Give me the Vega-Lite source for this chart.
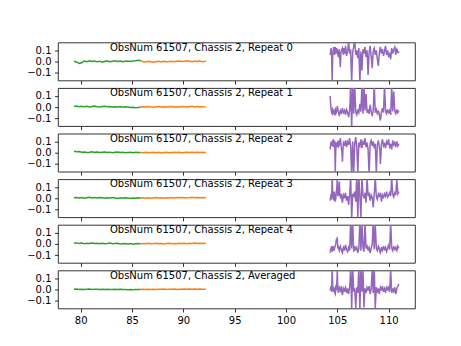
{
"$schema": "https://vega.github.io/schema/vega-lite/v6.json",
"padding": {"left": 26, "top": 41.5, "right": 0, "bottom": 0},
"spacing": 7.6,
"bounds": "flush",
"config": {
 "font": "DejaVu Sans",
 "view": {"stroke": "#000", "strokeWidth": 0.8},
 "axis": {"grid": false, "domain": false, "tickColor": "#000", "tickWidth": 0.8, "tickSize": 3.5, "labelColor": "#000", "labelFontSize": 10, "labelPadding": 3.5, "labelFont": "DejaVu Sans", "title": null, "labelFlush": false, "labelOverlap": false}
},
"datasets": {"spec": [
{"x":79.35,"s":"g","a":0.002,"b":0.006,"c":0.012,"d":0.004,"e":0.005,"f":0.002},
{"x":79.6,"s":"g","a":-0.004,"b":0.010,"c":0.008,"d":0.008,"e":0.009,"f":0.004},
{"x":79.85,"s":"g","a":-0.018,"b":0.004,"c":0.010,"d":0.002,"e":0.003,"f":0.001},
{"x":80.1,"s":"g","a":-0.012,"b":0.008,"c":0.004,"d":0.006,"e":0.007,"f":0.003},
{"x":80.35,"s":"g","a":0.004,"b":0.003,"c":0.007,"d":0.001,"e":0.002,"f":0.000},
{"x":80.6,"s":"g","a":-0.002,"b":0.007,"c":0.002,"d":0.005,"e":0.006,"f":0.002},
{"x":80.85,"s":"g","a":0.006,"b":0.002,"c":0.005,"d":0.009,"e":0.004,"f":0.004},
{"x":81.1,"s":"g","a":0.001,"b":0.006,"c":0.009,"d":0.003,"e":0.008,"f":0.001},
{"x":81.35,"s":"g","a":0.005,"b":0.009,"c":0.003,"d":0.006,"e":0.003,"f":0.003},
{"x":81.6,"s":"g","a":-0.003,"b":0.004,"c":0.006,"d":0.002,"e":0.005,"f":0.002},
{"x":81.85,"s":"g","a":0.003,"b":0.001,"c":0.001,"d":0.007,"e":0.001,"f":0.000},
{"x":82.1,"s":"g","a":-0.006,"b":0.005,"c":0.004,"d":0.004,"e":0.006,"f":0.003},
{"x":82.35,"s":"g","a":0.002,"b":0.008,"c":0.007,"d":0.000,"e":0.002,"f":0.001},
{"x":82.6,"s":"g","a":0.005,"b":0.003,"c":0.002,"d":0.005,"e":0.004,"f":0.002},
{"x":82.85,"s":"g","a":-0.002,"b":0.006,"c":0.005,"d":0.002,"e":0.007,"f":-0.001},
{"x":83.1,"s":"g","a":0.003,"b":0.000,"c":0.000,"d":0.006,"e":0.001,"f":0.001},
{"x":83.35,"s":"g","a":0.006,"b":0.004,"c":0.004,"d":0.003,"e":0.003,"f":0.003},
{"x":83.6,"s":"g","a":0.001,"b":0.002,"c":0.006,"d":-0.001,"e":0.005,"f":0.000},
{"x":83.85,"s":"g","a":0.004,"b":0.005,"c":0.001,"d":0.004,"e":-0.001,"f":0.002},
{"x":84.1,"s":"g","a":-0.003,"b":-0.001,"c":0.003,"d":0.001,"e":0.002,"f":-0.001},
{"x":84.35,"s":"g","a":0.002,"b":0.003,"c":-0.001,"d":0.005,"e":0.004,"f":0.001},
{"x":84.6,"s":"g","a":0.005,"b":0.000,"c":0.002,"d":0.002,"e":0.000,"f":-0.002},
{"x":84.85,"s":"g","a":0.001,"b":-0.004,"c":0.004,"d":-0.002,"e":0.003,"f":0.000},
{"x":85.1,"s":"g","a":0.004,"b":-0.002,"c":0.000,"d":0.003,"e":-0.002,"f":-0.003},
{"x":85.35,"s":"g","a":0.006,"b":-0.006,"c":0.003,"d":0.000,"e":0.001,"f":-0.001},
{"x":85.6,"s":"g","a":0.012,"b":-0.003,"c":0.001,"d":0.004,"e":0.003,"f":0.001},
{"x":85.85,"s":"g","a":0.008,"b":0.001,"c":0.002,"d":0.002,"e":0.001,"f":0.000},
{"x":85.85,"s":"o","a":0.008,"b":0.001,"c":0.002,"d":0.002,"e":0.001,"f":0.000},
{"x":86.1,"s":"o","a":-0.002,"b":0.004,"c":0.000,"d":0.005,"e":0.004,"f":0.002},
{"x":86.35,"s":"o","a":-0.004,"b":0.000,"c":0.003,"d":0.001,"e":0.002,"f":0.001},
{"x":86.6,"s":"o","a":0.001,"b":0.005,"c":-0.001,"d":0.004,"e":0.005,"f":0.003},
{"x":86.85,"s":"o","a":-0.003,"b":0.002,"c":0.002,"d":0.000,"e":0.001,"f":0.000},
{"x":87.1,"s":"o","a":-0.006,"b":-0.001,"c":0.004,"d":0.003,"e":0.003,"f":0.002},
{"x":87.35,"s":"o","a":-0.002,"b":0.003,"c":0.000,"d":0.006,"e":0.006,"f":0.001},
{"x":87.6,"s":"o","a":0.002,"b":0.006,"c":0.003,"d":0.002,"e":0.002,"f":0.003},
{"x":87.85,"s":"o","a":-0.004,"b":0.001,"c":-0.002,"d":0.004,"e":0.004,"f":0.002},
{"x":88.1,"s":"o","a":0.001,"b":0.004,"c":0.001,"d":0.001,"e":0.000,"f":0.004},
{"x":88.35,"s":"o","a":-0.003,"b":0.000,"c":0.003,"d":0.005,"e":0.003,"f":0.001},
{"x":88.6,"s":"o","a":-0.001,"b":0.003,"c":0.000,"d":0.002,"e":0.005,"f":0.003},
{"x":88.85,"s":"o","a":0.003,"b":0.005,"c":0.002,"d":0.006,"e":0.001,"f":0.002},
{"x":89.1,"s":"o","a":-0.002,"b":0.001,"c":0.004,"d":0.003,"e":0.004,"f":0.004},
{"x":89.35,"s":"o","a":0.002,"b":0.004,"c":0.001,"d":0.007,"e":0.002,"f":0.001},
{"x":89.6,"s":"o","a":0.004,"b":0.002,"c":0.003,"d":0.004,"e":0.006,"f":0.003},
{"x":89.85,"s":"o","a":0.000,"b":0.006,"c":-0.001,"d":0.008,"e":0.003,"f":0.002},
{"x":90.1,"s":"o","a":0.003,"b":0.003,"c":0.002,"d":0.005,"e":0.005,"f":0.004},
{"x":90.35,"s":"o","a":0.006,"b":0.000,"c":0.004,"d":0.002,"e":0.002,"f":0.003},
{"x":90.6,"s":"o","a":0.002,"b":0.004,"c":0.001,"d":0.006,"e":0.006,"f":0.005},
{"x":90.85,"s":"o","a":-0.002,"b":0.007,"c":0.005,"d":0.009,"e":0.003,"f":0.002},
{"x":91.1,"s":"o","a":0.004,"b":0.002,"c":0.002,"d":0.004,"e":0.007,"f":0.004},
{"x":91.35,"s":"o","a":0.001,"b":0.005,"c":0.004,"d":0.007,"e":0.004,"f":0.003},
{"x":91.6,"s":"o","a":0.006,"b":0.001,"c":0.001,"d":0.005,"e":0.006,"f":0.005},
{"x":91.85,"s":"o","a":-0.003,"b":0.004,"c":0.003,"d":0.008,"e":0.003,"f":0.002},
{"x":92.2,"s":"o","a":0.002,"b":0.002,"c":0.002,"d":0.006,"e":0.005,"f":0.003},
{"x":104.3,"s":"p","a":0.06,"b":0.10,"c":0.03,"d":-0.02,"e":-0.08,"f":-0.01},
{"x":104.4,"s":"p","a":0.12,"b":-0.02,"c":0.10,"d":0.04,"e":-0.04,"f":0.03},
{"x":104.5,"s":"p","a":-0.18,"b":-0.06,"c":0.06,"d":0.20,"e":-0.07,"f":0.20},
{"x":104.6,"s":"p","a":0.10,"b":-0.03,"c":0.12,"d":0.02,"e":-0.03,"f":-0.02},
{"x":104.7,"s":"p","a":0.08,"b":-0.07,"c":0.08,"d":0.06,"e":-0.06,"f":0.02},
{"x":104.8,"s":"p","a":0.13,"b":-0.02,"c":-0.17,"d":-0.03,"e":-0.02,"f":-0.04},
{"x":104.9,"s":"p","a":0.07,"b":-0.05,"c":0.09,"d":0.05,"e":0.04,"f":0.01},
{"x":105.0,"s":"p","a":0.10,"b":0.01,"c":0.05,"d":0.18,"e":0.06,"f":0.17},
{"x":105.1,"s":"p","a":0.04,"b":-0.04,"c":0.11,"d":0.03,"e":-0.03,"f":-0.03},
{"x":105.2,"s":"p","a":0.11,"b":-0.08,"c":0.07,"d":0.15,"e":-0.06,"f":0.02},
{"x":105.3,"s":"p","a":-0.05,"b":-0.03,"c":0.13,"d":0.01,"e":-0.02,"f":-0.01},
{"x":105.4,"s":"p","a":0.09,"b":-0.06,"c":0.04,"d":0.04,"e":-0.05,"f":0.03},
{"x":105.5,"s":"p","a":0.12,"b":-0.01,"c":-0.08,"d":-0.04,"e":-0.08,"f":-0.05},
{"x":105.6,"s":"p","a":0.06,"b":-0.05,"c":0.09,"d":0.03,"e":-0.03,"f":0.01},
{"x":105.7,"s":"p","a":0.10,"b":-0.03,"c":0.06,"d":0.00,"e":-0.06,"f":-0.02},
{"x":105.8,"s":"p","a":0.14,"b":-0.07,"c":0.11,"d":0.05,"e":-0.01,"f":0.02},
{"x":105.9,"s":"p","a":0.05,"b":-0.02,"c":0.05,"d":-0.02,"e":-0.05,"f":-0.03},
{"x":106.0,"s":"p","a":0.09,"b":-0.05,"c":0.10,"d":0.02,"e":-0.07,"f":0.01},
{"x":106.1,"s":"p","a":0.20,"b":-0.09,"c":0.07,"d":-0.06,"e":-0.03,"f":-0.04},
{"x":106.2,"s":"p","a":0.07,"b":-0.03,"c":0.13,"d":0.03,"e":-0.06,"f":0.02},
{"x":106.3,"s":"p","a":0.11,"b":0.22,"c":0.06,"d":0.21,"e":0.21,"f":0.21},
{"x":106.4,"s":"p","a":-0.19,"b":-0.20,"c":-0.20,"d":-0.19,"e":-0.04,"f":-0.18},
{"x":106.5,"s":"p","a":0.08,"b":0.21,"c":0.10,"d":0.04,"e":0.20,"f":0.20},
{"x":106.6,"s":"p","a":0.13,"b":-0.06,"c":-0.19,"d":0.01,"e":-0.07,"f":-0.02},
{"x":106.7,"s":"p","a":0.22,"b":0.20,"c":0.08,"d":0.06,"e":-0.02,"f":0.01},
{"x":106.8,"s":"p","a":0.06,"b":-0.04,"c":0.14,"d":-0.03,"e":-0.05,"f":-0.17},
{"x":106.9,"s":"p","a":0.10,"b":-0.07,"c":0.05,"d":0.20,"e":-0.03,"f":0.02},
{"x":107.0,"s":"p","a":0.03,"b":-0.02,"c":-0.18,"d":-0.18,"e":-0.08,"f":-0.03},
{"x":107.1,"s":"p","a":0.12,"b":-0.05,"c":0.09,"d":0.22,"e":-0.04,"f":0.21},
{"x":107.2,"s":"p","a":-0.20,"b":0.03,"c":0.06,"d":0.02,"e":0.22,"f":-0.19},
{"x":107.3,"s":"p","a":0.09,"b":-0.04,"c":0.12,"d":-0.17,"e":-0.06,"f":0.20},
{"x":107.4,"s":"p","a":-0.08,"b":0.20,"c":0.04,"d":0.19,"e":0.19,"f":-0.02},
{"x":107.5,"s":"p","a":0.11,"b":-0.06,"c":0.10,"d":0.03,"e":-0.03,"f":0.18},
{"x":107.6,"s":"p","a":0.07,"b":0.19,"c":0.07,"d":0.00,"e":-0.07,"f":-0.16},
{"x":107.7,"s":"p","a":0.13,"b":-0.03,"c":0.13,"d":0.05,"e":0.20,"f":0.01},
{"x":107.8,"s":"p","a":0.04,"b":0.12,"c":0.05,"d":-0.04,"e":-0.04,"f":-0.03},
{"x":107.9,"s":"p","a":0.10,"b":-0.05,"c":0.09,"d":0.18,"e":-0.02,"f":0.02},
{"x":108.0,"s":"p","a":-0.12,"b":-0.02,"c":0.03,"d":0.02,"e":-0.06,"f":-0.01},
{"x":108.1,"s":"p","a":0.08,"b":-0.06,"c":-0.19,"d":0.04,"e":-0.03,"f":0.03},
{"x":108.2,"s":"p","a":0.14,"b":0.02,"c":0.08,"d":-0.02,"e":-0.08,"f":-0.04},
{"x":108.3,"s":"p","a":0.05,"b":-0.04,"c":0.11,"d":0.03,"e":-0.04,"f":0.00},
{"x":108.4,"s":"p","a":-0.06,"b":-0.08,"c":0.06,"d":0.01,"e":-0.01,"f":0.20},
{"x":108.5,"s":"p","a":0.09,"b":-0.03,"c":0.10,"d":-0.08,"e":0.21,"f":-0.03},
{"x":108.6,"s":"p","a":0.12,"b":0.21,"c":0.04,"d":0.04,"e":-0.05,"f":0.19},
{"x":108.7,"s":"p","a":0.06,"b":-0.05,"c":0.08,"d":0.20,"e":0.18,"f":-0.17},
{"x":108.8,"s":"p","a":0.10,"b":-0.02,"c":-0.18,"d":0.02,"e":-0.03,"f":0.02},
{"x":108.9,"s":"p","a":0.02,"b":-0.06,"c":0.07,"d":-0.01,"e":-0.06,"f":-0.02},
{"x":109.0,"s":"p","a":-0.04,"b":-0.03,"c":0.11,"d":0.04,"e":-0.02,"f":0.01},
{"x":109.1,"s":"p","a":0.08,"b":-0.07,"c":0.05,"d":0.01,"e":-0.05,"f":-0.04},
{"x":109.2,"s":"p","a":0.13,"b":-0.12,"c":-0.10,"d":0.05,"e":-0.08,"f":0.02},
{"x":109.3,"s":"p","a":0.07,"b":-0.04,"c":0.08,"d":-0.03,"e":-0.03,"f":-0.01},
{"x":109.4,"s":"p","a":0.11,"b":-0.01,"c":0.12,"d":0.03,"e":-0.06,"f":0.03},
{"x":109.5,"s":"p","a":0.05,"b":-0.05,"c":0.06,"d":0.00,"e":-0.02,"f":-0.02},
{"x":109.6,"s":"p","a":0.09,"b":0.20,"c":0.09,"d":0.04,"e":-0.05,"f":0.01},
{"x":109.7,"s":"p","a":0.14,"b":-0.03,"c":0.04,"d":0.02,"e":-0.03,"f":-0.03},
{"x":109.8,"s":"p","a":0.06,"b":-0.06,"c":0.10,"d":0.06,"e":-0.07,"f":0.02},
{"x":109.9,"s":"p","a":0.10,"b":-0.02,"c":0.07,"d":0.01,"e":-0.04,"f":-0.01},
{"x":110.0,"s":"p","a":0.04,"b":-0.05,"c":0.12,"d":0.03,"e":-0.01,"f":0.03},
{"x":110.1,"s":"p","a":0.08,"b":-0.03,"c":0.05,"d":0.05,"e":-0.05,"f":-0.02},
{"x":110.2,"s":"p","a":0.02,"b":-0.07,"c":0.08,"d":0.02,"e":0.19,"f":0.18},
{"x":110.3,"s":"p","a":0.12,"b":0.19,"c":0.03,"d":0.19,"e":-0.03,"f":-0.03},
{"x":110.4,"s":"p","a":0.07,"b":-0.04,"c":0.11,"d":0.04,"e":-0.06,"f":0.01},
{"x":110.5,"s":"p","a":0.10,"b":0.14,"c":0.07,"d":0.01,"e":-0.02,"f":-0.02},
{"x":110.6,"s":"p","a":0.13,"b":-0.03,"c":0.09,"d":0.05,"e":-0.05,"f":0.02},
{"x":110.7,"s":"p","a":0.06,"b":-0.06,"c":0.05,"d":0.03,"e":-0.03,"f":-0.04},
{"x":110.8,"s":"p","a":0.11,"b":-0.02,"c":0.10,"d":0.17,"e":-0.06,"f":0.01},
{"x":110.9,"s":"p","a":0.08,"b":-0.05,"c":0.06,"d":0.04,"e":-0.02,"f":0.03},
{"x":111.0,"s":"p","a":0.09,"b":-0.03,"c":0.08,"d":0.06,"e":-0.04,"f":0.05},
{"x":104.35,"s":"p","a":0.09,"b":0.03,"c":0.07,"d":0.01,"e":-0.05,"f":0.01},
{"x":104.45,"s":"p","a":0.05,"b":-0.05,"c":0.08,"d":-0.01,"e":-0.02,"f":-0.02},
{"x":104.55,"s":"p","a":0.03,"b":-0.02,"c":0.10,"d":0.05,"e":-0.05,"f":0.04},
{"x":104.65,"s":"p","a":0.13,"b":-0.05,"c":0.05,"d":-0.02,"e":-0.04,"f":0.00},
{"x":104.75,"s":"p","a":0.06,"b":-0.03,"c":0.11,"d":0.03,"e":-0.03,"f":-0.03},
{"x":104.85,"s":"p","a":0.10,"b":-0.06,"c":0.02,"d":0.00,"e":0.00,"f":0.02},
{"x":104.95,"s":"p","a":0.12,"b":-0.03,"c":0.08,"d":0.09,"e":0.02,"f":0.05},
{"x":105.05,"s":"p","a":0.07,"b":-0.02,"c":0.09,"d":0.02,"e":-0.04,"f":0.00},
{"x":105.15,"s":"p","a":0.09,"b":-0.06,"c":0.06,"d":0.07,"e":-0.05,"f":-0.01},
{"x":105.25,"s":"p","a":0.02,"b":-0.05,"c":0.10,"d":0.03,"e":-0.03,"f":0.01},
{"x":105.35,"s":"p","a":0.08,"b":-0.04,"c":0.08,"d":0.02,"e":-0.04,"f":0.00},
{"x":105.45,"s":"p","a":0.11,"b":-0.03,"c":0.01,"d":-0.01,"e":-0.07,"f":-0.03},
{"x":105.55,"s":"p","a":0.08,"b":-0.04,"c":0.03,"d":0.00,"e":-0.05,"f":-0.02},
{"x":105.65,"s":"p","a":0.12,"b":-0.04,"c":0.08,"d":0.02,"e":-0.04,"f":0.00},
{"x":105.75,"s":"p","a":0.07,"b":-0.05,"c":0.09,"d":0.03,"e":-0.03,"f":0.01},
{"x":105.85,"s":"p","a":0.10,"b":-0.04,"c":0.08,"d":0.01,"e":-0.03,"f":-0.01},
{"x":105.95,"s":"p","a":0.07,"b":-0.03,"c":0.07,"d":0.00,"e":-0.06,"f":-0.01},
{"x":106.05,"s":"p","a":0.13,"b":-0.07,"c":0.09,"d":-0.02,"e":-0.05,"f":-0.02},
{"x":106.15,"s":"p","a":0.12,"b":-0.06,"c":0.10,"d":-0.01,"e":-0.04,"f":-0.01},
{"x":106.25,"s":"p","a":0.09,"b":0.05,"c":0.09,"d":0.10,"e":0.05,"f":0.08},
{"x":106.35,"s":"p","a":-0.05,"b":0.00,"c":-0.08,"d":0.00,"e":0.08,"f":0.02},
{"x":106.45,"s":"p","a":-0.04,"b":0.02,"c":-0.05,"d":-0.06,"e":0.08,"f":0.02},
{"x":106.55,"s":"p","a":0.11,"b":0.06,"c":-0.04,"d":0.03,"e":0.06,"f":0.09},
{"x":106.65,"s":"p","a":0.18,"b":0.08,"c":-0.05,"d":0.04,"e":-0.05,"f":-0.01},
{"x":106.75,"s":"p","a":0.12,"b":0.06,"c":0.11,"d":0.01,"e":-0.04,"f":-0.08},
{"x":106.85,"s":"p","a":0.08,"b":-0.06,"c":0.09,"d":0.09,"e":-0.04,"f":-0.06},
{"x":106.95,"s":"p","a":0.06,"b":-0.05,"c":-0.06,"d":0.00,"e":-0.06,"f":0.00},
{"x":107.05,"s":"p","a":0.08,"b":-0.04,"c":-0.04,"d":0.03,"e":-0.06,"f":0.09},
{"x":107.15,"s":"p","a":-0.04,"b":-0.01,"c":0.07,"d":0.10,"e":0.09,"f":0.00},
{"x":107.25,"s":"p","a":-0.05,"b":-0.01,"c":0.09,"d":-0.07,"e":0.08,"f":0.01},
{"x":107.35,"s":"p","a":0.00,"b":0.08,"c":0.08,"d":0.01,"e":0.06,"f":0.09},
{"x":107.45,"s":"p","a":0.02,"b":0.07,"c":0.07,"d":0.11,"e":0.08,"f":0.08},
{"x":107.55,"s":"p","a":0.09,"b":0.06,"c":0.09,"d":0.02,"e":-0.05,"f":0.01},
{"x":107.65,"s":"p","a":0.10,"b":0.08,"c":0.10,"d":0.02,"e":0.06,"f":-0.07},
{"x":107.75,"s":"p","a":0.08,"b":0.04,"c":0.09,"d":0.00,"e":0.08,"f":-0.01},
{"x":107.85,"s":"p","a":0.07,"b":0.03,"c":0.07,"d":0.07,"e":-0.03,"f":-0.01},
{"x":107.95,"s":"p","a":0.00,"b":-0.04,"c":0.06,"d":0.10,"e":-0.04,"f":0.01},
{"x":108.05,"s":"p","a":-0.02,"b":-0.04,"c":-0.08,"d":0.03,"e":-0.04,"f":0.01},
{"x":108.15,"s":"p","a":0.11,"b":-0.02,"c":-0.06,"d":0.01,"e":-0.06,"f":-0.01},
{"x":108.25,"s":"p","a":0.09,"b":-0.01,"c":0.10,"d":0.00,"e":-0.06,"f":-0.02},
{"x":108.35,"s":"p","a":0.00,"b":-0.06,"c":0.09,"d":0.02,"e":-0.02,"f":0.09},
{"x":108.45,"s":"p","a":0.02,"b":-0.05,"c":0.08,"d":-0.03,"e":0.09,"f":0.08},
{"x":108.55,"s":"p","a":0.11,"b":0.08,"c":0.07,"d":-0.02,"e":0.07,"f":0.08},
{"x":108.65,"s":"p","a":0.09,"b":0.07,"c":0.06,"d":0.11,"e":0.06,"f":0.01},
{"x":108.75,"s":"p","a":0.08,"b":-0.03,"c":-0.05,"d":0.10,"e":0.07,"f":-0.07},
{"x":108.85,"s":"p","a":0.06,"b":-0.04,"c":-0.06,"d":0.00,"e":-0.05,"f":0.00},
{"x":108.95,"s":"p","a":-0.01,"b":-0.05,"c":0.09,"d":0.02,"e":-0.04,"f":-0.01},
{"x":109.05,"s":"p","a":0.02,"b":-0.05,"c":0.08,"d":0.03,"e":-0.03,"f":-0.02},
{"x":109.15,"s":"p","a":0.11,"b":-0.10,"c":0.02,"d":0.03,"e":-0.07,"f":-0.01},
{"x":109.25,"s":"p","a":0.10,"b":-0.08,"c":-0.02,"d":0.01,"e":-0.05,"f":0.01},
{"x":109.35,"s":"p","a":0.09,"b":-0.03,"c":0.10,"d":0.00,"e":-0.05,"f":0.01},
{"x":109.45,"s":"p","a":0.08,"b":-0.03,"c":0.09,"d":0.02,"e":-0.04,"f":0.00},
{"x":109.55,"s":"p","a":0.07,"b":0.07,"c":0.07,"d":0.02,"e":-0.04,"f":0.00},
{"x":109.65,"s":"p","a":0.12,"b":0.08,"c":0.06,"d":0.03,"e":-0.04,"f":-0.01},
{"x":109.75,"s":"p","a":0.10,"b":-0.05,"c":0.07,"d":0.04,"e":-0.05,"f":0.00},
{"x":109.85,"s":"p","a":0.08,"b":-0.04,"c":0.09,"d":0.03,"e":-0.06,"f":0.01},
{"x":109.95,"s":"p","a":0.07,"b":-0.04,"c":0.10,"d":0.02,"e":-0.02,"f":0.01},
{"x":110.05,"s":"p","a":0.06,"b":-0.04,"c":0.08,"d":0.04,"e":-0.03,"f":0.00},
{"x":110.15,"s":"p","a":0.05,"b":-0.05,"c":0.06,"d":0.03,"e":0.07,"f":0.08},
{"x":110.25,"s":"p","a":0.07,"b":0.06,"c":0.05,"d":0.10,"e":0.08,"f":0.07},
{"x":110.35,"s":"p","a":0.10,"b":0.07,"c":0.07,"d":0.11,"e":-0.05,"f":-0.01},
{"x":110.45,"s":"p","a":0.09,"b":0.05,"c":0.09,"d":0.02,"e":-0.04,"f":-0.01},
{"x":110.55,"s":"p","a":0.12,"b":0.05,"c":0.08,"d":0.03,"e":-0.04,"f":0.00},
{"x":110.65,"s":"p","a":0.10,"b":-0.05,"c":0.07,"d":0.04,"e":-0.04,"f":-0.01},
{"x":110.75,"s":"p","a":0.09,"b":-0.04,"c":0.08,"d":0.10,"e":-0.05,"f":-0.02},
{"x":110.85,"s":"p","a":0.10,"b":-0.04,"c":0.08,"d":0.10,"e":-0.04,"f":0.02},
{"x":110.95,"s":"p","a":0.08,"b":-0.04,"c":0.07,"d":0.05,"e":-0.03,"f":0.04}
]},
"vconcat": [
{"width": 357, "height": 38, "layer": [
 {"data": {"name": "spec"}, "mark": {"type": "line", "clip": true, "strokeWidth": 1.5},
  "encoding": {"x": {"field": "x", "type": "quantitative", "scale": {"domain": [77.79, 112.57], "nice": false, "zero": false}, "axis": {"values": [80,85,90,95,100,105,110], "tickCount": 10, "labels": false}},
   "y": {"field": "a", "type": "quantitative", "scale": {"domain": [-0.17, 0.17], "nice": false}, "axis": {"values": [-0.1, 0, 0.1], "tickCount": 5, "format": ".1f"}},
   "color": {"field": "s", "type": "nominal", "scale": {"domain": ["g","o","p"], "range": ["#2ca02c","#ff7f0e","#9467bd"]}, "legend": null}}},
 {"data": {"values": [{"t": "ObsNum 61507, Chassis 2, Repeat 0"}]}, "mark": {"type": "text", "align": "left", "baseline": "top", "fontSize": 10, "color": "#000"},
  "encoding": {"x": {"datum": 82.85, "type": "quantitative"}, "y": {"datum": 0.17, "type": "quantitative"}, "text": {"field": "t"}}}
]},
{"width": 357, "height": 38, "layer": [
 {"data": {"name": "spec"}, "mark": {"type": "line", "clip": true, "strokeWidth": 1.5},
  "encoding": {"x": {"field": "x", "type": "quantitative", "scale": {"domain": [77.79, 112.57], "nice": false, "zero": false}, "axis": {"values": [80,85,90,95,100,105,110], "tickCount": 10, "labels": false}},
   "y": {"field": "b", "type": "quantitative", "scale": {"domain": [-0.17, 0.17], "nice": false}, "axis": {"values": [-0.1, 0, 0.1], "tickCount": 5, "format": ".1f"}},
   "color": {"field": "s", "type": "nominal", "scale": {"domain": ["g","o","p"], "range": ["#2ca02c","#ff7f0e","#9467bd"]}, "legend": null}}},
 {"data": {"values": [{"t": "ObsNum 61507, Chassis 2, Repeat 1"}]}, "mark": {"type": "text", "align": "left", "baseline": "top", "fontSize": 10, "color": "#000"},
  "encoding": {"x": {"datum": 82.85, "type": "quantitative"}, "y": {"datum": 0.17, "type": "quantitative"}, "text": {"field": "t"}}}
]},
{"width": 357, "height": 38, "layer": [
 {"data": {"name": "spec"}, "mark": {"type": "line", "clip": true, "strokeWidth": 1.5},
  "encoding": {"x": {"field": "x", "type": "quantitative", "scale": {"domain": [77.79, 112.57], "nice": false, "zero": false}, "axis": {"values": [80,85,90,95,100,105,110], "tickCount": 10, "labels": false}},
   "y": {"field": "c", "type": "quantitative", "scale": {"domain": [-0.17, 0.17], "nice": false}, "axis": {"values": [-0.1, 0, 0.1], "tickCount": 5, "format": ".1f"}},
   "color": {"field": "s", "type": "nominal", "scale": {"domain": ["g","o","p"], "range": ["#2ca02c","#ff7f0e","#9467bd"]}, "legend": null}}},
 {"data": {"values": [{"t": "ObsNum 61507, Chassis 2, Repeat 2"}]}, "mark": {"type": "text", "align": "left", "baseline": "top", "fontSize": 10, "color": "#000"},
  "encoding": {"x": {"datum": 82.85, "type": "quantitative"}, "y": {"datum": 0.17, "type": "quantitative"}, "text": {"field": "t"}}}
]},
{"width": 357, "height": 38, "layer": [
 {"data": {"name": "spec"}, "mark": {"type": "line", "clip": true, "strokeWidth": 1.5},
  "encoding": {"x": {"field": "x", "type": "quantitative", "scale": {"domain": [77.79, 112.57], "nice": false, "zero": false}, "axis": {"values": [80,85,90,95,100,105,110], "tickCount": 10, "labels": false}},
   "y": {"field": "d", "type": "quantitative", "scale": {"domain": [-0.17, 0.17], "nice": false}, "axis": {"values": [-0.1, 0, 0.1], "tickCount": 5, "format": ".1f"}},
   "color": {"field": "s", "type": "nominal", "scale": {"domain": ["g","o","p"], "range": ["#2ca02c","#ff7f0e","#9467bd"]}, "legend": null}}},
 {"data": {"values": [{"t": "ObsNum 61507, Chassis 2, Repeat 3"}]}, "mark": {"type": "text", "align": "left", "baseline": "top", "fontSize": 10, "color": "#000"},
  "encoding": {"x": {"datum": 82.85, "type": "quantitative"}, "y": {"datum": 0.17, "type": "quantitative"}, "text": {"field": "t"}}}
]},
{"width": 357, "height": 38, "layer": [
 {"data": {"name": "spec"}, "mark": {"type": "line", "clip": true, "strokeWidth": 1.5},
  "encoding": {"x": {"field": "x", "type": "quantitative", "scale": {"domain": [77.79, 112.57], "nice": false, "zero": false}, "axis": {"values": [80,85,90,95,100,105,110], "tickCount": 10, "labels": false}},
   "y": {"field": "e", "type": "quantitative", "scale": {"domain": [-0.17, 0.17], "nice": false}, "axis": {"values": [-0.1, 0, 0.1], "tickCount": 5, "format": ".1f"}},
   "color": {"field": "s", "type": "nominal", "scale": {"domain": ["g","o","p"], "range": ["#2ca02c","#ff7f0e","#9467bd"]}, "legend": null}}},
 {"data": {"values": [{"t": "ObsNum 61507, Chassis 2, Repeat 4"}]}, "mark": {"type": "text", "align": "left", "baseline": "top", "fontSize": 10, "color": "#000"},
  "encoding": {"x": {"datum": 82.85, "type": "quantitative"}, "y": {"datum": 0.17, "type": "quantitative"}, "text": {"field": "t"}}}
]},
{"width": 357, "height": 38, "layer": [
 {"data": {"name": "spec"}, "mark": {"type": "line", "clip": true, "strokeWidth": 1.5},
  "encoding": {"x": {"field": "x", "type": "quantitative", "scale": {"domain": [77.79, 112.57], "nice": false, "zero": false}, "axis": {"values": [80,85,90,95,100,105,110], "tickCount": 10}},
   "y": {"field": "f", "type": "quantitative", "scale": {"domain": [-0.17, 0.17], "nice": false}, "axis": {"values": [-0.1, 0, 0.1], "tickCount": 5, "format": ".1f"}},
   "color": {"field": "s", "type": "nominal", "scale": {"domain": ["g","o","p"], "range": ["#2ca02c","#ff7f0e","#9467bd"]}, "legend": null}}},
 {"data": {"values": [{"t": "ObsNum 61507, Chassis 2, Averaged"}]}, "mark": {"type": "text", "align": "left", "baseline": "top", "fontSize": 10, "color": "#000"},
  "encoding": {"x": {"datum": 82.85, "type": "quantitative"}, "y": {"datum": 0.17, "type": "quantitative"}, "text": {"field": "t"}}}
]}
]
}
